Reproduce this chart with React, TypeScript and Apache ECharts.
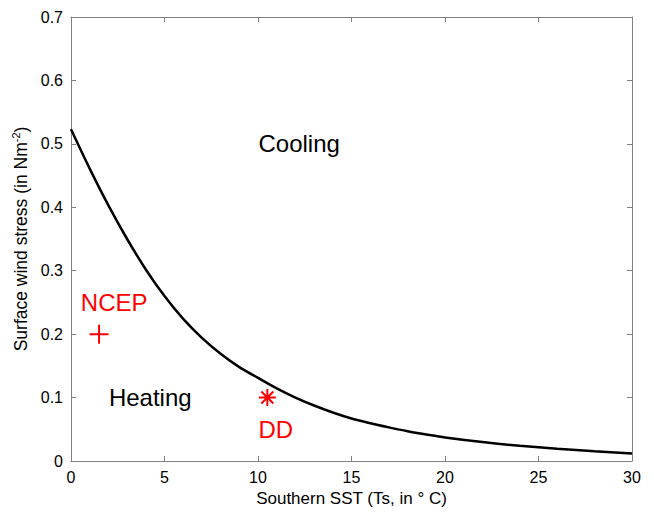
import React, { useEffect, useRef } from "react";
import * as echarts from "echarts";

const sstValues = [0, 1, 2, 3, 4, 5, 6, 7, 8, 9, 10, 11, 12, 13, 14, 15, 16, 17, 18, 19, 20, 22, 24, 26, 28, 30];
const stressValues = [0.523, 0.461, 0.403, 0.35, 0.302, 0.26, 0.224, 0.194, 0.169, 0.148, 0.131, 0.1145, 0.1, 0.0875, 0.0765, 0.067, 0.0595, 0.053, 0.047, 0.0418, 0.037, 0.0298, 0.024, 0.0193, 0.0155, 0.012];

const ncepPoint = [1.5, 0.2];
const ddPoint = [10.5, 0.1];

const regionLabels = [
  { name: "Cooling", x: 10, y: 0.5 },
  { name: "Heating", x: 2, y: 0.1 },
];
const markerLabels = [
  { name: "NCEP", x: 0.5, y: 0.25 },
  { name: "DD", x: 10, y: 0.05 },
];

const xTicks = { min: 0, max: 30, interval: 5 };
const yTicks = { min: 0, max: 0.7, interval: 0.1 };

const FONT = "'Liberation Sans', Arial, sans-serif";
const AXIS_COLOR = "#808080";
const RED = "#ff0000";

export default function App() {
  const ref = useRef<HTMLDivElement>(null);

  useEffect(() => {
    if (!ref.current) return;
    const chart = echarts.init(ref.current, undefined, { renderer: "svg" });

    const axisCommon = {
      axisLine: { show: true, onZero: false, lineStyle: { color: AXIS_COLOR, width: 1 } },
      axisTick: { show: true, inside: true, length: 5, lineStyle: { color: AXIS_COLOR } },
      splitLine: { show: false },
    };

    const curve = sstValues.map((x, i) => [x, stressValues[i]]);

    chart.setOption({
      animation: false,
      backgroundColor: "#ffffff",
      textStyle: { fontFamily: FONT },
      grid: { left: 71, right: 22, top: 17, bottom: 51, containLabel: false },
      xAxis: [
        {
          type: "value",
          ...xTicks,
          position: "bottom",
          ...axisCommon,
          axisLabel: { color: "#000", fontSize: 16, margin: 8, fontFamily: FONT },
          name: "Southern SST (Ts, in ° C)",
          nameLocation: "middle",
          nameGap: 27,
          nameTextStyle: { color: "#000", fontSize: 17, fontFamily: FONT },
        },
        {
          type: "value",
          ...xTicks,
          position: "top",
          ...axisCommon,
          axisLabel: { show: false },
        },
      ],
      yAxis: [
        {
          type: "value",
          ...yTicks,
          position: "left",
          ...axisCommon,
          axisLabel: {
            color: "#000",
            fontSize: 16,
            margin: 8,
            fontFamily: FONT,
            formatter: (v: number) => String(Math.round(v * 10) / 10),
          },
          name: "{a|Surface wind stress (in Nm}{s|-2}{a|)}",
          nameLocation: "middle",
          nameGap: 37,
          nameTextStyle: {
            fontFamily: FONT,
            rich: {
              a: { color: "#000", fontSize: 17.5, fontFamily: FONT },
              s: { color: "#000", fontSize: 11, fontFamily: FONT, padding: [0, 0, 9, 0] },
            },
          },
        },
        {
          type: "value",
          ...yTicks,
          position: "right",
          ...axisCommon,
          axisLabel: { show: false },
        },
      ],
      series: [
        {
          type: "line",
          data: curve,
          smooth: 0.3,
          showSymbol: false,
          symbol: "none",
          lineStyle: { color: "#000", width: 2.5 },
          silent: true,
        },
        {
          type: "scatter",
          data: [ncepPoint],
          symbol: "path://M0,-1L0,1M-1,0L1,0",
          symbolSize: 19,
          itemStyle: { color: "none", borderColor: RED, borderWidth: 2, opacity: 1 },
        },
        {
          type: "scatter",
          data: [ddPoint],
          symbol: "path://M0,-1L0,1M-1,0L1,0M-0.707,-0.707L0.707,0.707M-0.707,0.707L0.707,-0.707",
          symbolSize: 17,
          itemStyle: { color: "none", borderColor: RED, borderWidth: 2, opacity: 1 },
        },
        {
          type: "scatter",
          data: regionLabels.map((d) => ({ name: d.name, value: [d.x, d.y] })),
          symbolSize: 1,
          itemStyle: { color: "transparent", opacity: 1 },
          label: {
            show: true,
            position: "right",
            distance: 0,
            formatter: "{b}",
            color: "#000",
            fontSize: 24,
            fontFamily: FONT,
          },
        },
        {
          type: "scatter",
          data: markerLabels.map((d) => ({ name: d.name, value: [d.x, d.y] })),
          symbolSize: 1,
          itemStyle: { color: "transparent", opacity: 1 },
          label: {
            show: true,
            position: "right",
            distance: 0,
            formatter: "{b}",
            color: RED,
            fontSize: 24,
            fontFamily: FONT,
          },
        },
      ],
    });

    return () => chart.dispose();
  }, []);

  return (
    <div
      ref={ref}
      style={{ position: "absolute", left: 0, top: 0, width: 654, height: 512 }}
    />
  );
}
